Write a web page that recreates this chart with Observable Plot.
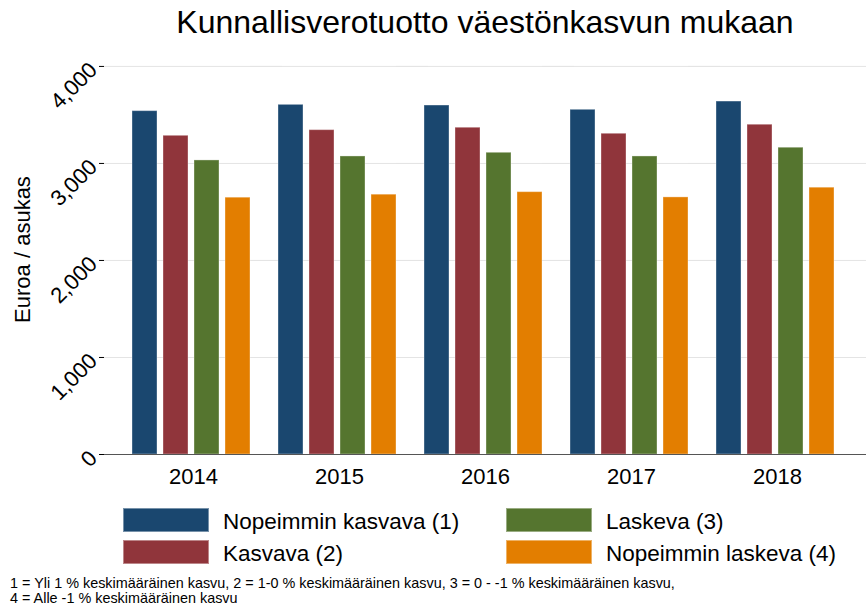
<!DOCTYPE html>
<html>
<head>
<meta charset="utf-8">
<script src="https://cdn.jsdelivr.net/npm/d3@7"></script>
<script src="https://cdn.jsdelivr.net/npm/@observablehq/plot@0.6"></script>
<style>
  html, body { margin: 0; padding: 0; background: #fff; }
  #wrap { position: relative; width: 867px; height: 615px; overflow: hidden; font-family: "Liberation Sans", Arial, sans-serif; color: #000; }
  #title { position: absolute; top: 0; left: 103px; width: 764px; text-align: center; font-size: 32px; line-height: 44px; white-space: nowrap; }
  #chart { position: absolute; top: 44px; left: 0; }
  .lg { position: absolute; display: flex; align-items: flex-start; }
  .sw { width: 86px; height: 24px; box-sizing: border-box; }
  .lt { font-size: 22.5px; line-height: 24px; margin-left: 14px; padding-top: 2px; white-space: nowrap; }
  #note { position: absolute; left: 10px; top: 576px; font-size: 14.4px; line-height: 15px; white-space: nowrap; }
</style>
</head>
<body>
<div id="wrap">
  <div id="title"></div>
  <div id="chart"></div>
  <div id="legend"></div>
  <div id="note"></div>
</div>
<script>
const titleText = "Kunnallisverotuotto väestönkasvun mukaan";
const yLabel = "Euroa / asukas";
const years = ["2014", "2015", "2016", "2017", "2018"];
const series = ["Nopeimmin kasvava (1)", "Kasvava (2)", "Laskeva (3)", "Nopeimmin laskeva (4)"];
const colors = ["#1a476f", "#90353b", "#55752f", "#e37e00"];
const fastGrowing = [3539, 3604, 3597, 3553, 3638];
const growing = [3285, 3343, 3368, 3306, 3399];
const declining = [3031, 3072, 3110, 3072, 3162];
const fastDeclining = [2647, 2678, 2704, 2650, 2750];
const yTicks = [0, 1000, 2000, 3000, 4000];
const noteLines = [
  "1 = Yli 1 % keskimääräinen kasvu, 2 = 1-0 % keskimääräinen kasvu, 3 = 0 - -1 % keskimääräinen kasvu,",
  "4 = Alle -1 % keskimääräinen kasvu"
];

const seriesValues = [fastGrowing, growing, declining, fastDeclining];
const data = years.flatMap((yr, i) => series.map((s, j) => ({year: yr, series: s, value: seriesValues[j][i]})));

document.getElementById("title").textContent = titleText;

const fmt = d3.format(",");
const chart = Plot.plot({
  width: 867,
  height: 446,
  marginLeft: 103,
  marginRight: 0,
  marginTop: 0,
  marginBottom: 36,
  style: {fontFamily: "'Liberation Sans', Arial, sans-serif", background: "white", color: "#000", overflow: "visible"},
  fx: {domain: years, paddingInner: -0.222, paddingOuter: 0, label: null},
  x: {domain: series, paddingInner: 0.1875, paddingOuter: 0.8875, align: 0.47, axis: null},
  y: {domain: [0, 4226], axis: null},
  color: {domain: series, range: colors},
  marks: [
    Plot.gridY(yTicks.slice(1), {stroke: "#e4e4e4", strokeOpacity: 1}),
    Plot.barY(data, {fx: "year", x: "series", y: "value", fill: "series", stroke: "#ffffff", strokeOpacity: 0.35, strokeWidth: 1}),
    Plot.ruleY([0], {stroke: "#555"}),
    Plot.axisY(yTicks, {tickSize: 5, tickRotate: -45, fontSize: 22, tickFormat: d => fmt(d), tickPadding: 6, line: true, stroke: "#000",
      label: yLabel, labelAnchor: "center", labelOffset: 90, labelArrow: "none"}),
    Plot.axisFx({anchor: "bottom", tickSize: 0, tickPadding: 14, fontSize: 22, label: null})
  ]
});
document.getElementById("chart").appendChild(chart);

// legend
const legend = document.getElementById("legend");
const legendPos = [[123, 508], [123, 540], [506, 508], [506, 540]];
series.forEach((s, i) => {
  const item = document.createElement("div");
  item.className = "lg";
  item.style.left = legendPos[i][0] + "px";
  item.style.top = legendPos[i][1] + "px";
  const sw = document.createElement("div");
  sw.className = "sw";
  sw.style.background = colors[i];
  sw.style.border = "1px solid " + d3.interpolateRgb(colors[i], "#fff")(0.4);
  const lt = document.createElement("div");
  lt.className = "lt";
  lt.textContent = s;
  item.appendChild(sw);
  item.appendChild(lt);
  legend.appendChild(item);
});

const note = document.getElementById("note");
noteLines.forEach(l => { const d = document.createElement("div"); d.textContent = l; note.appendChild(d); });
</script>
</body>
</html>
